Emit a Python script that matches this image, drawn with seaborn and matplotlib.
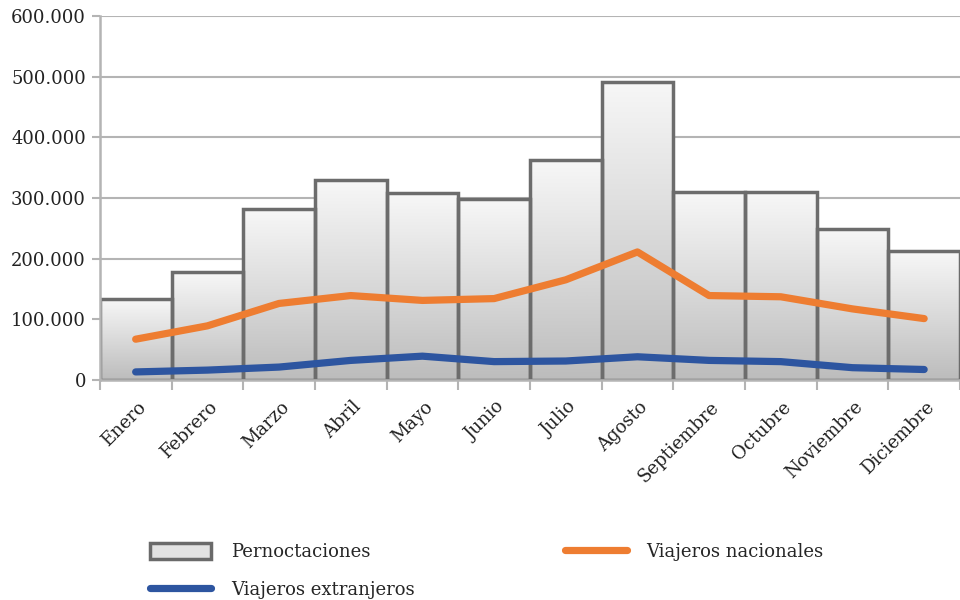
import numpy as np
import pandas as pd
import matplotlib
matplotlib.use("Agg")
import matplotlib.pyplot as plt
import matplotlib.ticker as mticker
import matplotlib.transforms as mtransforms
from matplotlib.patches import Patch
from matplotlib.lines import Line2D
import seaborn as sns

meses = ["Enero", "Febrero", "Marzo", "Abril", "Mayo", "Junio", "Julio",
         "Agosto", "Septiembre", "Octubre", "Noviembre", "Diciembre"]
pernoctaciones = [133000, 178000, 282000, 330000, 308000, 298000, 363000,
                  492000, 310000, 310000, 249000, 212000]
viajeros_nacionales = [67000, 89000, 126000, 139000, 131000, 134000, 165000,
                       211000, 139000, 137000, 117000, 101000]
viajeros_extranjeros = [13000, 16000, 21000, 32000, 39000, 30000, 31000,
                        38000, 32000, 30000, 20000, 17000]
y_ticks = [0, 100000, 200000, 300000, 400000, 500000, 600000]

sns.set_theme(style="white")
plt.rcParams["font.family"] = ["DejaVu Serif"]
plt.rcParams["font.size"] = 13

df = pd.DataFrame({"mes": meses, "pern": pernoctaciones,
                   "nac": viajeros_nacionales, "ext": viajeros_extranjeros,
                   "pos": np.arange(len(meses))})

fig = plt.figure(figsize=(9.6, 6), dpi=100)
ax = fig.add_axes([0.104, 0.367, 0.896, 0.606])

GRID = "#b4b4b4"
ax.set_ylim(0, 600000)
ax.set_yticks(y_ticks)
ax.yaxis.set_major_formatter(mticker.FuncFormatter(
    lambda v, p: "0" if v == 0 else f"{int(v):,}".replace(",", ".")))
ax.grid(axis="y", color=GRID, linewidth=1.5, zorder=0)
ax.set_axisbelow(True)

sns.barplot(data=df, x="mes", y="pern", width=1.0, ax=ax,
            color="#e6e6e6", edgecolor="#6c6c6c", linewidth=2.5,
            saturation=1, zorder=2)

# vertical white-to-grey gradient inside each bar
grad = np.linspace(0, 1, 256).reshape(-1, 1)
cmap = matplotlib.colors.LinearSegmentedColormap.from_list(
    "barfill", ["#bcbcbc", "#dadada", "#f7f7f7"])
for patch in ax.patches:
    x0, y0 = patch.get_x(), patch.get_y()
    w, h = patch.get_width(), patch.get_height()
    im = ax.imshow(grad, cmap=cmap, aspect="auto", origin="lower",
                   extent=(x0, x0 + w, y0, y0 + h), zorder=2.1,
                   interpolation="bilinear")
    im.set_clip_path(patch)
    patch.set_facecolor("none")
    patch.set_zorder(2.2)

sns.lineplot(data=df, x="pos", y="nac", ax=ax, color="#EE7D31",
             linewidth=5.2, zorder=4, solid_capstyle="round",
             solid_joinstyle="round")
sns.lineplot(data=df, x="pos", y="ext", ax=ax, color="#2D55A0",
             linewidth=5.2, zorder=4, solid_capstyle="round",
             solid_joinstyle="round")

ax.set_xlim(-0.5, len(meses) - 0.5)
ax.set_ylim(0, 600000)
ax.set_xlabel("")
ax.set_ylabel("")

for side in ["top", "right"]:
    ax.spines[side].set_visible(False)
for side in ["left", "bottom"]:
    ax.spines[side].set_color(GRID)
    ax.spines[side].set_linewidth(1.8)

ax.set_xticks(np.arange(len(meses)))
ax.set_xticklabels(meses, rotation=45, ha="right")
ax.set_xticks(np.arange(-0.5, len(meses)), minor=True)
ax.tick_params(axis="x", which="major", length=0, pad=13, labelsize=13,
               colors="#222222")
ax.tick_params(axis="x", which="minor", length=7, width=1.5, color=GRID,
               direction="out", bottom=True)
ax.tick_params(axis="y", which="major", length=6, width=1.5, color=GRID,
               direction="out", left=True, labelsize=13, labelcolor="#222222",
               pad=4)
offset = mtransforms.ScaledTranslation(10 / 72, 0, fig.dpi_scale_trans)
for lbl in ax.get_xticklabels():
    lbl.set_transform(lbl.get_transform() + offset)

handles = [
    Patch(facecolor="#e2e2e2", edgecolor="#6a6a6a", linewidth=2.5),
    Line2D([0], [0], color="#2D55A0", linewidth=5.2, solid_capstyle="round"),
    Line2D([0], [0], color="#EE7D31", linewidth=5.2, solid_capstyle="round"),
]
labels = ["Pernoctaciones", "Viajeros extranjeros", "Viajeros nacionales"]
fig.legend(handles, labels, ncol=2, loc="upper left",
           bbox_to_anchor=(0.156, 0.095), bbox_transform=fig.transFigure,
           frameon=False, fontsize=13, handlelength=3.4, handleheight=1.0,
           handletextpad=1.1, columnspacing=8.35, labelspacing=1.1,
           borderaxespad=0, borderpad=0)

fig.savefig("out.png", dpi=100)
